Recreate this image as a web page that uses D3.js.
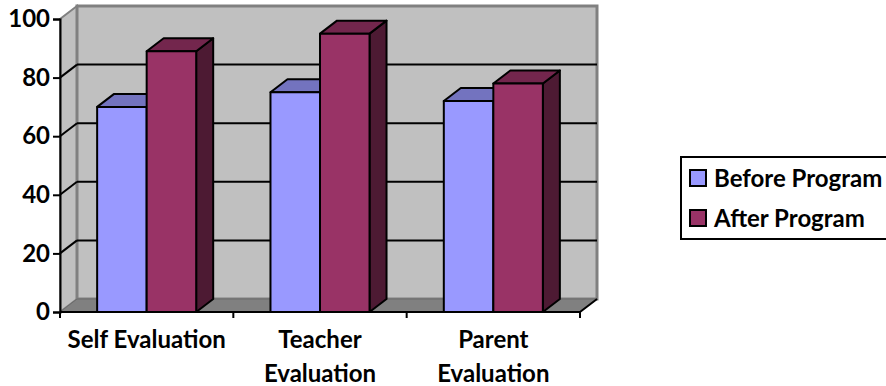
<html>
    <head>
        <title>Evaluation chart</title>
        <style type="text/css">
            body{
                padding:0px;
                margin:0px;
                background:white;
            }
            svg{
                width:886px;
                height:386px;
                display:block;
            }
            text{
                font-family:Lato, "Liberation Sans", sans-serif;
                font-weight:bold;
                font-size:24px;
                fill:black;
            }
        </style>
        <script src="https://d3js.org/d3.v7.min.js"></script>
        <script type="text/javascript">
            // chart data
            var categories = ["Self Evaluation", "Teacher Evaluation", "Parent Evaluation"];
            var categoryLines = [["Self Evaluation"], ["Teacher", "Evaluation"], ["Parent", "Evaluation"]];
            var seriesNames = ["Before Program", "After Program"];
            var beforeValues = [70, 75, 72];
            var afterValues = [89, 95, 78];
            var yTicks = [0, 20, 40, 60, 80, 100];

            var front = ["#9999FF", "#993366"];
            var top_ = ["#7373BF", "#73264D"];
            var side = ["#4D4D80", "#4D1A33"];

            // depth offset of the 3d box
            var dx = 17, dy = 13;

            window.onload = function(){
                var svg = d3.select("body").append("svg");

                var y = d3.scaleLinear().domain([0, 100]).range([312, 19]);
                var x = d3.scaleBand().domain(categories).range([60, 580]);
                var xs = d3.scaleBand().domain(seriesNames).range([0, x.bandwidth()])
                    .paddingInner(0).paddingOuter(0.75);

                var left = x.range()[0], right = x.range()[1];
                var y0 = y(0), y100 = y(100);

                // left wall
                svg.append("polygon")
                    .attr("points", [[left, y100], [left + dx, y100 - dy], [left + dx, y0 - dy], [left, y0]].join(" "))
                    .style("fill", "#C0C0C0").style("stroke", "#808080").style("stroke-width", 2);
                // back wall
                svg.append("rect")
                    .attr("x", left + dx).attr("y", y100 - dy)
                    .attr("width", right - left).attr("height", y0 - y100)
                    .style("fill", "#C0C0C0").style("stroke", "#808080").style("stroke-width", 3);
                // floor
                svg.append("polygon")
                    .attr("points", [[left, y0], [right, y0], [right + dx, y0 - dy], [left + dx, y0 - dy]].join(" "))
                    .style("fill", "#808080").style("stroke", "#6a6a6a").style("stroke-width", 1);

                // gridlines on both walls
                var grid = yTicks.filter(function(d){ return d > 0 && d < 100; });
                svg.selectAll(".gridback").data(grid).enter().append("line")
                    .attr("x1", left + dx).attr("x2", right + dx)
                    .attr("y1", function(d){ return y(d) - dy; })
                    .attr("y2", function(d){ return y(d) - dy; })
                    .style("stroke", "black").style("stroke-width", 2);
                svg.selectAll(".gridleft").data(grid).enter().append("line")
                    .attr("x1", left).attr("x2", left + dx)
                    .attr("y1", function(d){ return y(d); })
                    .attr("y2", function(d){ return y(d) - dy; })
                    .style("stroke", "black").style("stroke-width", 2);

                // bars
                var bars = [];
                categories.forEach(function(c, i){
                    bars.push({cat: c, s: 0, v: beforeValues[i]});
                    bars.push({cat: c, s: 1, v: afterValues[i]});
                });
                var g = svg.selectAll(".bar").data(bars).enter().append("g");
                g.append("polygon")
                    .attr("points", function(d){
                        var x1 = x(d.cat) + xs(seriesNames[d.s]) + xs.bandwidth(), yt = y(d.v);
                        return [[x1, yt], [x1 + dx, yt - dy], [x1 + dx, y0 - dy], [x1, y0]].join(" ");
                    })
                    .style("fill", function(d){ return side[d.s]; });
                g.append("polygon")
                    .attr("points", function(d){
                        var x0 = x(d.cat) + xs(seriesNames[d.s]), x1 = x0 + xs.bandwidth(), yt = y(d.v);
                        return [[x0, yt], [x1, yt], [x1 + dx, yt - dy], [x0 + dx, yt - dy]].join(" ");
                    })
                    .style("fill", function(d){ return top_[d.s]; });
                g.append("rect")
                    .attr("x", function(d){ return x(d.cat) + xs(seriesNames[d.s]); })
                    .attr("y", function(d){ return y(d.v); })
                    .attr("width", xs.bandwidth())
                    .attr("height", function(d){ return y0 - y(d.v); })
                    .style("fill", function(d){ return front[d.s]; });
                g.selectAll("polygon, rect")
                    .style("stroke", "black").style("stroke-width", 2).style("stroke-linejoin", "round");

                // y axis
                var yAxis = svg.append("g").attr("transform", "translate(" + left + ",0)")
                    .call(d3.axisLeft(y).tickValues(yTicks).tickSize(7).tickPadding(3));
                yAxis.select(".domain").style("stroke", "black").style("stroke-width", 2);
                yAxis.selectAll(".tick line").style("stroke", "black").style("stroke-width", 2);
                yAxis.attr("font-family", null).attr("font-size", null);

                // x axis with ticks at category edges
                svg.append("line").attr("x1", left).attr("x2", right).attr("y1", y0).attr("y2", y0)
                    .style("stroke", "black").style("stroke-width", 2);
                svg.append("line").attr("x1", right).attr("x2", right + dx).attr("y1", y0).attr("y2", y0 - dy)
                    .style("stroke", "black").style("stroke-width", 2);
                var edges = categories.map(function(c){ return x(c); }).concat([right]);
                svg.selectAll(".xtick").data(edges).enter().append("line")
                    .attr("x1", function(d){ return d; }).attr("x2", function(d){ return d; })
                    .attr("y1", y0).attr("y2", y0 + 6)
                    .style("stroke", "black").style("stroke-width", 2);

                // category labels
                svg.selectAll(".xlabel").data(categories).enter().append("text")
                    .attr("text-anchor", "middle")
                    .attr("x", function(d){ return x(d) + x.bandwidth() / 2; })
                    .attr("y", 348)
                    .each(function(d, i){
                        var t = d3.select(this);
                        categoryLines[i].forEach(function(line, j){
                            t.append("tspan").attr("x", x(d) + x.bandwidth() / 2)
                                .attr("dy", j == 0 ? 0 : 34).text(line);
                        });
                    });

                // legend
                var lg = svg.append("g");
                lg.append("rect").attr("x", 681).attr("y", 157).attr("width", 220).attr("height", 82)
                    .style("fill", "white").style("stroke", "black").style("stroke-width", 2);
                var items = lg.selectAll(".item").data(seriesNames).enter().append("g")
                    .attr("transform", function(d, i){ return "translate(690," + (170 + i * 40) + ")"; });
                items.append("rect").attr("width", 16).attr("height", 16)
                    .style("fill", function(d, i){ return front[i]; })
                    .style("stroke", "black").style("stroke-width", 2);
                items.append("text").attr("x", 24).attr("y", 17).text(function(d){ return d; });
            }
        </script>
    </head>
    <body>
    </body>
</html>
